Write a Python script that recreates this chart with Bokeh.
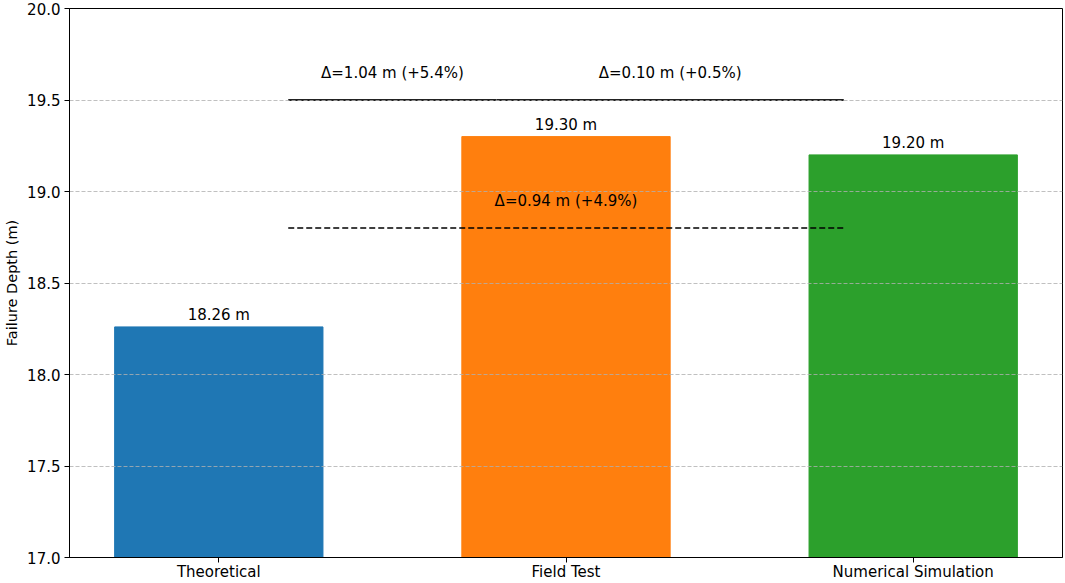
from bokeh.plotting import figure
from bokeh.models import Range1d, FixedTicker, PrintfTickFormatter, ColumnDataSource
from bokeh.core.properties import value
from bokeh.embed import file_html
from bokeh.resources import INLINE

# ---- data ----
categories = ["Theoretical", "Field Test", "Numerical Simulation"]
depths = [18.26, 19.30, 19.20]
bar_colors = ["#1f77b4", "#ff7f0e", "#2ca02c"]
bar_labels = ["18.26 m", "19.30 m", "19.20 m"]

# comparison brackets
solid_x0 = [0.2, 0.8]
solid_x1 = [0.8, 1.8]
solid_y = [19.5, 19.5]
solid_text = ["\u0394=1.04 m (+5.4%)", "\u0394=0.10 m (+0.5%)"]
dash_x0 = [0.2]
dash_x1 = [1.8]
dash_y = [18.8]
dash_text = ["\u0394=0.94 m (+4.9%)"]

y_ticks = [17.0, 17.5, 18.0, 18.5, 19.0, 19.5, 20.0]
FONT = "DejaVu Sans"
FS = "15px"

xs = list(range(len(categories)))

p = figure(width=1065, height=583, output_backend="svg", toolbar_location=None,
           x_range=Range1d(-0.43, 2.43), y_range=Range1d(17.0, 20.0),
           min_border_left=69, min_border_right=3, min_border_top=8, min_border_bottom=25)

p.background_fill_color = "white"
p.border_fill_color = "white"
p.outline_line_color = "black"
p.outline_line_width = 1

# grid above bars, below lines
p.xgrid.visible = False
p.ygrid.ticker = FixedTicker(ticks=y_ticks)
p.ygrid.grid_line_color = "#b0b0b0"
p.ygrid.grid_line_dash = "4 2"
p.ygrid.grid_line_width = 1
p.ygrid.grid_line_alpha = 0.8
p.ygrid.level = "glyph"

bars = ColumnDataSource(dict(x=xs, top=depths, color=bar_colors,
                             label=bar_labels, ly=[d + 0.015 for d in depths]))
p.vbar(x="x", top="top", bottom=17.0, width=0.6, color="color", source=bars, level="underlay")
p.text(x="x", y="ly", text="label", source=bars, text_align="center", text_baseline="bottom",
       text_font=value(FONT), text_font_size=FS, text_color="black")

solid = ColumnDataSource(dict(x0=solid_x0, x1=solid_x1, y=solid_y, t=solid_text,
                              xm=[(a + b) / 2 for a, b in zip(solid_x0, solid_x1)],
                              ty=[v + 0.1 for v in solid_y]))
p.segment(x0="x0", y0="y", x1="x1", y1="y", source=solid, line_color="#222222", line_width=2)
p.text(x="xm", y="ty", text="t", source=solid, text_align="center", text_baseline="bottom",
       text_font=value(FONT), text_font_size=FS, text_color="black")

dash = ColumnDataSource(dict(x0=dash_x0, x1=dash_x1, y=dash_y, t=dash_text,
                             xm=[(a + b) / 2 for a, b in zip(dash_x0, dash_x1)],
                             ty=[v + 0.1 for v in dash_y]))
p.segment(x0="x0", y0="y", x1="x1", y1="y", source=dash, line_color="black", line_width=1.5,
          line_dash=value([6, 3]))
p.text(x="xm", y="ty", text="t", source=dash, text_align="center", text_baseline="bottom",
       text_font=value(FONT), text_font_size=FS, text_color="black")

# axes
p.xaxis.ticker = FixedTicker(ticks=xs)
p.xaxis.major_label_overrides = {i: c for i, c in zip(xs, categories)}
p.yaxis.ticker = FixedTicker(ticks=y_ticks)
p.yaxis.formatter = PrintfTickFormatter(format="%.1f")
p.yaxis.axis_label = "Failure Depth (m)"
for ax in (p.xaxis[0], p.yaxis[0]):
    ax.axis_line_color = "black"
    ax.axis_line_width = 1
    ax.major_tick_line_color = "black"
    ax.major_tick_out = 5
    ax.major_tick_in = 0
    ax.minor_tick_line_color = None
    ax.major_label_text_font = FONT
    ax.major_label_text_font_size = FS
    ax.major_label_text_color = "black"
    ax.axis_label_text_font = FONT
    ax.axis_label_text_font_size = "14.5px"
    ax.axis_label_text_font_style = "normal"
    ax.axis_label_text_color = "black"
p.xaxis.major_label_standoff = 0
p.yaxis.major_label_standoff = 4
p.yaxis.axis_label_standoff = 4

open("out.html", "w").write(file_html(p, INLINE))
